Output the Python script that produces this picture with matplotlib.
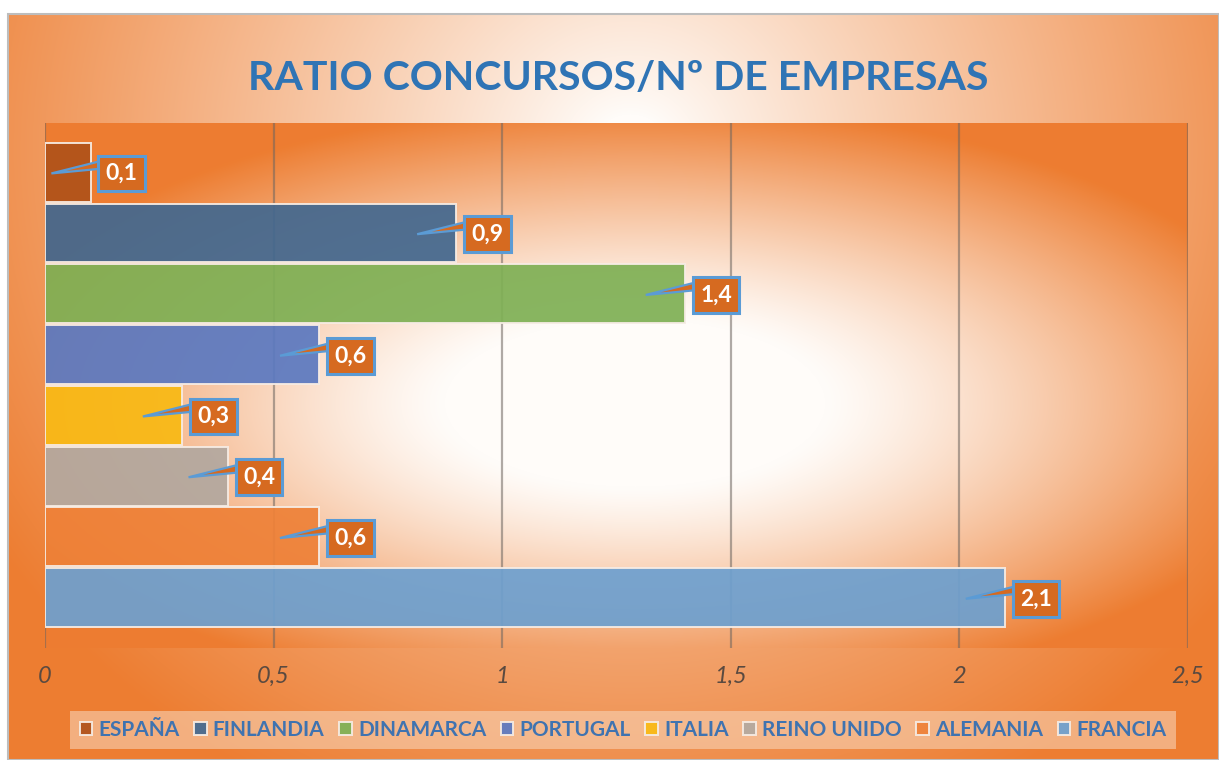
import numpy as np
import matplotlib
matplotlib.use("Agg")
import matplotlib.pyplot as plt
from matplotlib.patches import Polygon, Rectangle

plt.rcParams['font.family'] = ['Lato', 'DejaVu Sans']

# data
paises = ['ESPAÑA', 'FINLANDIA', 'DINAMARCA', 'PORTUGAL', 'ITALIA',
          'REINO UNIDO', 'ALEMANIA', 'FRANCIA']
ratio = [0.1, 0.9, 1.4, 0.6, 0.3, 0.4, 0.6, 2.1]
colores = ['#B0521A', '#43688F', '#7FB055', '#5C79C0', '#F9B914',
           '#B3A89F', '#EE8138', '#6EA0CF']
xticks = [0, 0.5, 1, 1.5, 2, 2.5]
xlabels = ['0', '0,5', '1', '1,5', '2', '2,5']

W, H = 1219, 760
ORANGE = np.array([237, 125, 49]) / 255.0
WHITE = np.array([255, 252, 249]) / 255.0


def radial(w, h, cx, cy, rx, ry, flat=0.0, power=1.0):
    yy, xx = np.mgrid[0:h, 0:w]
    r = np.sqrt(((xx - cx) / rx) ** 2 + ((yy - cy) / ry) ** 2)
    t = np.clip((r - flat) / (1 - flat), 0, 1) ** power
    return WHITE * (1 - t[..., None]) + ORANGE * t[..., None]


fig = plt.figure(figsize=(W / 100, H / 100), dpi=100)

# chart area background
bg = fig.add_axes([0, 0, 1, 1])
img = radial(W, H, 630, 150, 760, 720, flat=0.05, power=0.9)
img[:14, :, :] = 1.0
img[:, :8, :] = 1.0
bg.imshow(img, extent=[0, W, H, 0], aspect='auto', interpolation='bilinear')
bg.add_patch(Rectangle((8, 14), W - 8, H - 14, fill=False, ec='#BDBDBD', lw=1.5))
bg.set_xlim(0, W)
bg.set_ylim(H, 0)
bg.axis('off')

# plot area
x0, x1, yt, yb = 45, 1188, 123, 648
ax = fig.add_axes([x0 / W, 1 - yb / H, (x1 - x0) / W, (yb - yt) / H])
ax.patch.set_visible(False)
xmin, xmax = 0, 2.5
ymin, ymax = -0.83, 7.81
pw, ph = x1 - x0, yb - yt
pimg = radial(pw, ph, 590, 280, 680, 300, flat=0.28, power=1.2)
ax.imshow(pimg, extent=[xmin, xmax, ymin, ymax], aspect='auto', zorder=0,
          interpolation='bilinear')

for xt in xticks:
    ax.axvline(xt, color='#6E6660', alpha=0.55, lw=1.6, zorder=1)

pos = [7 - i for i in range(len(paises))]
bars = []
for p, v, c, name in zip(pos, ratio, colores, paises):
    b = ax.barh(p, v, height=0.97, color=c, alpha=0.93, edgecolor='#F6ECE4',
                lw=1.4, zorder=2, label=name)
    bars.append(b)

ppu = pw / (xmax - xmin)   # pixels per unit x
box_fc = '#D66A20'
box_ec = '#5B9BD5'
for p, v in zip(pos, ratio):
    bx = v + 7 / ppu
    tip = (v - 0.086, p - 0.02)
    wedge = Polygon([tip, (bx + 0.01, p + 0.19), (bx + 0.01, p + 0.06)],
                    closed=True, fc=box_fc, ec=box_ec, lw=1.6, zorder=3)
    ax.add_patch(wedge)
    ax.text(bx + 8 / ppu, p - 0.02, f'{v:.1f}'.replace('.', ','),
            ha='left', va='center', color='white', fontsize=16.5,
            fontweight='bold', zorder=4,
            bbox=dict(boxstyle='square,pad=0.32', fc=box_fc, ec=box_ec, lw=2.2))

ax.set_xlim(xmin, xmax)
ax.set_ylim(ymin, ymax)
ax.set_xticks(xticks)
ax.set_xticklabels(xlabels, fontstyle='italic', color='#5A4A40', fontsize=17)
ax.tick_params(axis='x', length=0, pad=13)
ax.set_yticks([])
for s in ax.spines.values():
    s.set_visible(False)

fig.text(618 / W, 1 - 78 / H, 'RATIO CONCURSOS/Nº DE EMPRESAS', ha='center',
         va='center', color='#2F74B5', fontsize=29.5, fontweight='bold')

leg = ax.legend(handles=bars, loc='center', ncol=8,
                bbox_to_anchor=(623 / W, 1 - 730 / H),
                bbox_transform=fig.transFigure, frameon=True, fancybox=False,
                prop={'weight': 'bold', 'size': 15}, labelcolor='#3F73B0',
                handlelength=0.6, handleheight=0.6, handletextpad=0.3,
                columnspacing=0.7, borderpad=0.45)
leg.get_frame().set_facecolor('#F8D2B4')
leg.get_frame().set_alpha(0.6)
leg.get_frame().set_edgecolor('none')

fig.savefig('out.png', dpi=100)
